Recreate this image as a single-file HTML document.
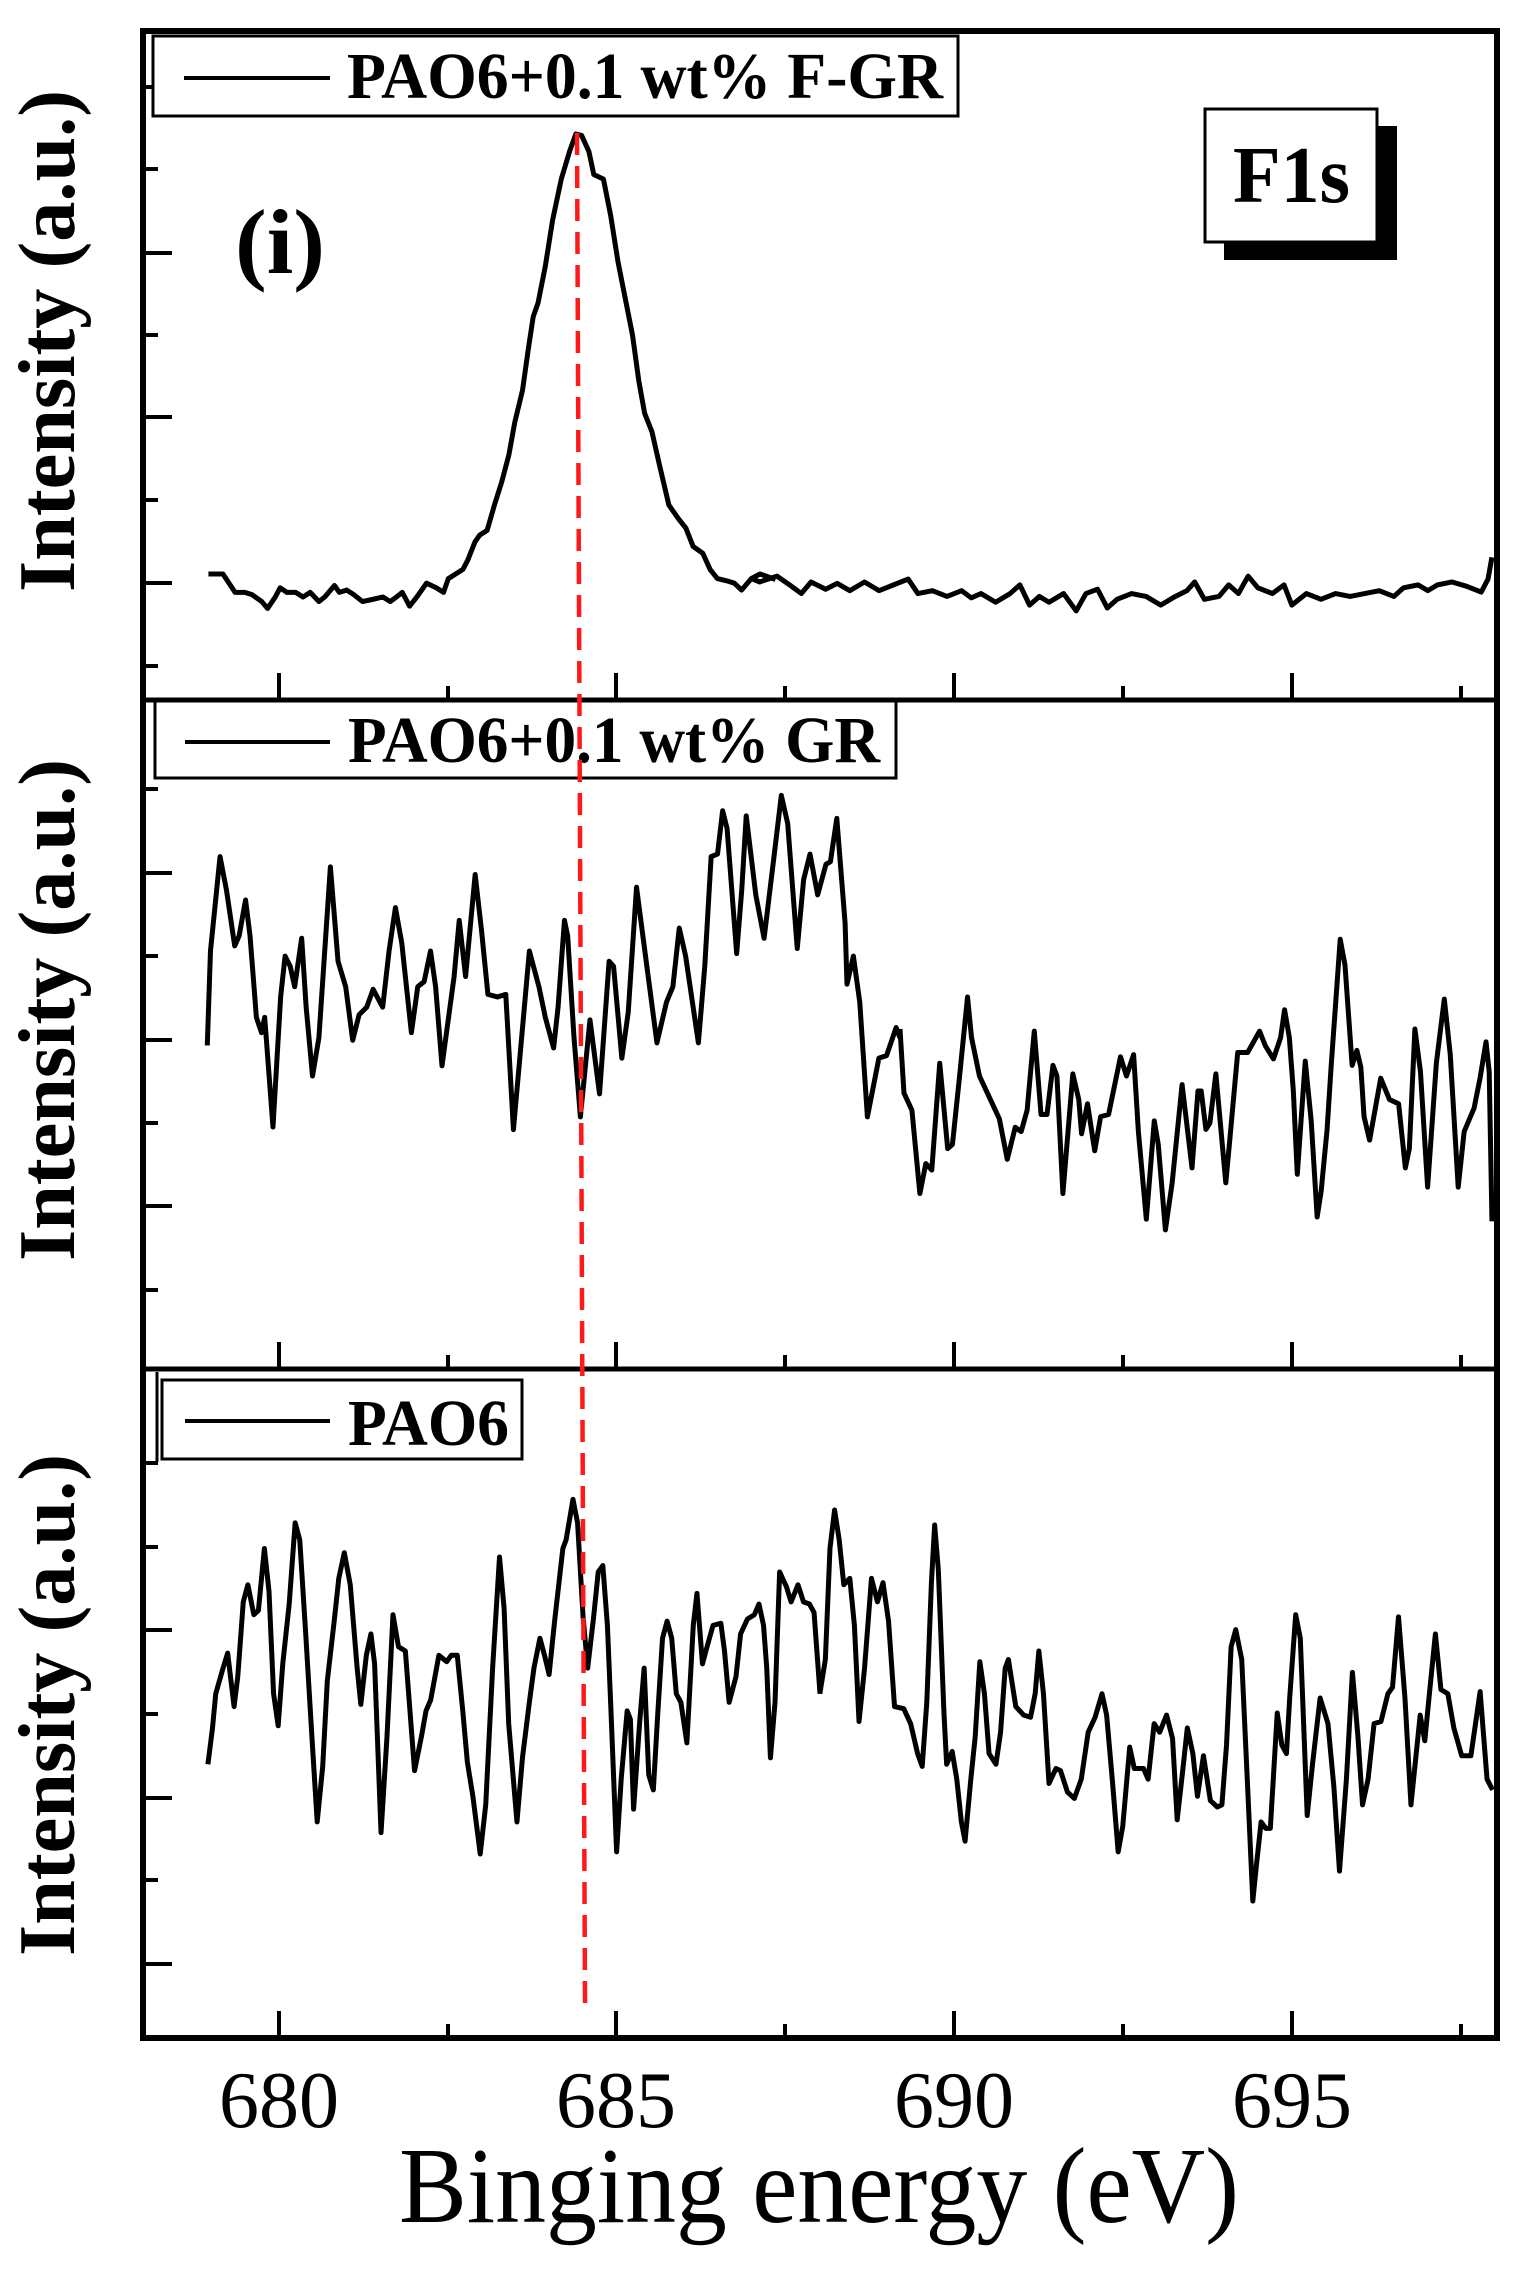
<!DOCTYPE html>
<html><head><meta charset="utf-8"><style>html,body{margin:0;padding:0;background:#fff}svg{display:block}</style></head>
<body>
<svg width="1523" height="2270" viewBox="0 0 1523 2270" xmlns="http://www.w3.org/2000/svg" font-family="'Liberation Serif',serif">
<rect width="1523" height="2270" fill="#fff"/>
<rect x="143" y="31" width="1354" height="2007" fill="none" stroke="#000" stroke-width="6"/>
<line x1="143" y1="700" x2="1497" y2="700" stroke="#000" stroke-width="5"/>
<line x1="143" y1="1369" x2="1497" y2="1369" stroke="#000" stroke-width="5"/>
<g stroke="#000" stroke-width="4">
<line x1="143" y1="87" x2="158" y2="87"/><line x1="143" y1="169" x2="158" y2="169"/><line x1="143" y1="253" x2="172" y2="253"/><line x1="143" y1="335" x2="158" y2="335"/><line x1="143" y1="417" x2="172" y2="417"/><line x1="143" y1="500" x2="158" y2="500"/><line x1="143" y1="583" x2="172" y2="583"/><line x1="143" y1="666" x2="158" y2="666"/>
<line x1="143" y1="789" x2="158" y2="789"/><line x1="143" y1="873" x2="172" y2="873"/><line x1="143" y1="956" x2="158" y2="956"/><line x1="143" y1="1040" x2="172" y2="1040"/><line x1="143" y1="1123" x2="158" y2="1123"/><line x1="143" y1="1206" x2="172" y2="1206"/><line x1="143" y1="1290" x2="158" y2="1290"/>
<line x1="143" y1="1463" x2="158" y2="1463"/><line x1="143" y1="1547" x2="158" y2="1547"/><line x1="143" y1="1630" x2="172" y2="1630"/><line x1="143" y1="1714" x2="158" y2="1714"/><line x1="143" y1="1798" x2="172" y2="1798"/><line x1="143" y1="1880" x2="158" y2="1880"/><line x1="143" y1="1964" x2="172" y2="1964"/>
<line x1="279" y1="700" x2="279" y2="673"/><line x1="448" y1="700" x2="448" y2="686"/><line x1="616" y1="700" x2="616" y2="673"/><line x1="785" y1="700" x2="785" y2="686"/><line x1="954" y1="700" x2="954" y2="673"/><line x1="1123" y1="700" x2="1123" y2="686"/><line x1="1292" y1="700" x2="1292" y2="673"/><line x1="1461" y1="700" x2="1461" y2="686"/>
<line x1="279" y1="1369" x2="279" y2="1342"/><line x1="448" y1="1369" x2="448" y2="1355"/><line x1="616" y1="1369" x2="616" y2="1342"/><line x1="785" y1="1369" x2="785" y2="1355"/><line x1="954" y1="1369" x2="954" y2="1342"/><line x1="1123" y1="1369" x2="1123" y2="1355"/><line x1="1292" y1="1369" x2="1292" y2="1342"/><line x1="1461" y1="1369" x2="1461" y2="1355"/>
<line x1="279" y1="2038" x2="279" y2="2011"/><line x1="448" y1="2038" x2="448" y2="2024"/><line x1="616" y1="2038" x2="616" y2="2011"/><line x1="785" y1="2038" x2="785" y2="2024"/><line x1="954" y1="2038" x2="954" y2="2011"/><line x1="1123" y1="2038" x2="1123" y2="2024"/><line x1="1292" y1="2038" x2="1292" y2="2011"/><line x1="1461" y1="2038" x2="1461" y2="2024"/>
</g>
<g stroke="#000" fill="#fff">
<rect x="153" y="36" width="805" height="80" stroke-width="3"/>
<rect x="155" y="701" width="741" height="77" stroke-width="3"/>
<rect x="162" y="1380" width="360" height="79" stroke-width="3"/>
</g>
<line x1="157" y1="1372" x2="157" y2="1462" stroke="#000" stroke-width="3"/>
<g stroke="#000" stroke-width="4">
<line x1="184" y1="78" x2="330" y2="78"/>
<line x1="185" y1="742" x2="330" y2="742"/>
<line x1="185" y1="1421" x2="330" y2="1421"/>
</g>
<g font-weight="bold" font-size="66" fill="#000">
<text x="347" y="98" textLength="596" lengthAdjust="spacingAndGlyphs">PAO6+0.1 wt% F-GR</text>
<text x="348" y="762" textLength="532" lengthAdjust="spacingAndGlyphs">PAO6+0.1 wt% GR</text>
<text x="348" y="1445" textLength="161" lengthAdjust="spacingAndGlyphs">PAO6</text>
</g>
<rect x="1224" y="126" width="173" height="134" fill="#000"/>
<rect x="1205" y="109" width="172" height="133" fill="#fff" stroke="#000" stroke-width="3"/>
<text x="1233" y="202" font-weight="bold" font-size="80" textLength="117" lengthAdjust="spacingAndGlyphs">F1s</text>
<text x="235" y="273" font-weight="bold" font-size="92" textLength="90" lengthAdjust="spacingAndGlyphs">(i)</text>
<g font-weight="bold" font-size="80">
<text transform="translate(74,341) rotate(-90)" text-anchor="middle" textLength="502" lengthAdjust="spacingAndGlyphs">Intensity (a.u.)</text>
<text transform="translate(74,1010) rotate(-90)" text-anchor="middle" textLength="502" lengthAdjust="spacingAndGlyphs">Intensity (a.u.)</text>
<text transform="translate(74,1705) rotate(-90)" text-anchor="middle" textLength="502" lengthAdjust="spacingAndGlyphs">Intensity (a.u.)</text>
</g>
<g font-size="80" text-anchor="middle">
<text x="279" y="2127" textLength="120" lengthAdjust="spacingAndGlyphs">680</text>
<text x="616" y="2127" textLength="120" lengthAdjust="spacingAndGlyphs">685</text>
<text x="954" y="2127" textLength="120" lengthAdjust="spacingAndGlyphs">690</text>
<text x="1292" y="2127" textLength="120" lengthAdjust="spacingAndGlyphs">695</text>
</g>
<text x="399" y="2222" font-size="108" textLength="840" lengthAdjust="spacingAndGlyphs">Binging energy (eV)</text>
<g fill="none" stroke="#000" stroke-width="5" stroke-linejoin="round">
<polyline vector-effect="non-scaling-stroke" transform="scale(0.4847,0.4592)" points="430,1250 460,1250 485,1290 505,1290 520,1295 540,1310 552,1325 568,1300 578,1280 592,1290 610,1290 625,1300 640,1290 658,1310 670,1300 690,1275 700,1290 715,1285 730,1295 748,1310 770,1305 790,1300 805,1310 818,1300 830,1290 845,1320 860,1300 880,1270 900,1280 915,1290 925,1260 940,1250 955,1240 965,1220 980,1180 990,1165 1005,1155 1020,1100 1035,1050 1050,990 1062,920 1078,850 1090,760 1100,690 1110,660 1125,580 1140,480 1158,390 1175,330 1188,292 1200,295 1215,330 1225,380 1245,390 1260,470 1275,570 1290,650 1305,730 1318,830 1330,900 1345,940 1360,1010 1380,1100 1400,1130 1415,1150 1430,1190 1450,1205 1465,1240 1480,1260 1500,1265 1515,1270 1530,1285 1550,1260 1568,1250 1600,1262"/>
<polyline vector-effect="non-scaling-stroke" transform="scale(0.9713,1.4477)" points="775,400 782,402 800,398 815,405 825,410 835,402 850,407 862,403 875,408 890,402 905,408 920,404 935,400 945,410 960,408 975,412 990,408 1000,413 1010,410 1025,416 1040,410 1050,404 1060,418 1070,412 1080,416 1095,410 1108,422 1118,410 1130,407 1140,420 1150,414 1165,410 1180,412 1195,418 1210,412 1222,408 1230,402 1240,414 1255,412 1265,404 1275,410 1285,398 1295,406 1310,410 1322,404 1330,418 1345,410 1360,414 1375,410 1390,412 1405,410 1420,408 1435,412 1445,406 1460,404 1470,408 1480,404 1495,402 1510,405 1525,409 1532,400 1536,385"/>
<polyline vector-effect="non-scaling-stroke" transform="translate(0,650) scale(0.6378,0.5102)" points="325,775 330,590 345,405 355,470 368,580 375,560 385,490 392,560 402,720 410,750 415,720 428,935 440,680 447,600 455,620 462,660 473,565 480,700 490,835 500,760 518,425 530,610 542,660 553,765 563,715 575,700 585,665 600,700 610,590 620,505 630,575 645,750 655,660 665,650 675,590 683,660 693,815 712,640 720,530 730,640 745,440 755,550 765,675 780,680 793,675 805,940 830,590 845,660 855,720 868,780 875,700 885,530 890,560 900,760 910,915 925,725 940,870 955,610 962,620 975,800 985,710 998,465 1010,580 1030,770 1045,690 1055,660 1065,545 1075,600 1095,770 1105,620 1115,405 1125,400 1133,315 1140,350 1155,595 1163,470 1170,325 1185,480 1198,565 1215,390 1225,285 1235,340 1250,585 1260,450 1270,400 1282,480 1295,420 1302,415 1312,330 1325,535 1328,655 1338,600 1348,690 1360,915 1378,800 1390,795 1405,740 1411,760"/>
<polyline vector-effect="non-scaling-stroke" transform="translate(900,700) scale(0.3973,0.4273)" points="0,770 10,920 30,960 50,1155 65,1085 80,1100 100,850 120,1050 132,1040 150,880 170,695 180,790 200,880 240,960 250,980 270,1075 290,1000 305,1010 320,960 338,775 355,970 370,970 385,855 395,880 410,1155 435,875 450,935 457,1015 472,945 490,1055 505,975 525,970 555,835 570,880 588,830 600,1010 620,1215 640,985 650,1040 668,1240 685,1130 710,900 735,1095 750,915 758,915 770,1005 780,990 795,875 820,1130 830,1030 850,825 875,825 905,775 920,810 940,840 958,790 968,725 980,790 990,915 1000,1110 1020,845 1035,985 1050,1210 1060,1150 1075,1005 1085,860 1108,560 1120,620 1138,855 1150,820 1160,860 1168,975 1182,1030 1210,885 1232,935 1255,945 1272,1095 1282,1050 1296,770 1310,870 1328,1140 1350,850 1370,700 1385,830 1405,1140 1420,1010 1445,955 1460,885 1475,800 1483,870 1490,1220"/>
<polyline vector-effect="non-scaling-stroke" transform="translate(100,1369) scale(0.4592,0.4273)" points="235,925 245,840 252,760 268,700 278,665 292,790 300,720 312,545 322,505 335,575 345,565 358,420 368,520 378,760 388,835 398,690 412,550 425,360 435,400 448,620 462,870 473,1060 485,930 495,730 510,590 520,490 532,430 545,505 560,700 568,785 580,670 590,620 598,690 612,1085 625,860 638,575 650,650 665,660 675,800 685,940 700,860 710,800 720,775 738,670 755,685 765,670 778,670 790,800 800,920 812,1000 828,1135 840,1020 855,700 870,440 880,560 890,830 908,1060 920,910 935,780 945,700 958,630 968,670 978,715 990,590 1008,420 1015,400 1030,305 1040,360 1052,580 1062,700 1075,580 1085,475 1095,460 1105,600 1112,780 1125,1130 1135,960 1148,800 1155,820 1162,1030 1175,830 1185,700 1195,950 1205,985 1215,800 1225,630 1235,590 1245,630 1255,760 1265,780 1278,875 1292,600 1300,525 1312,690 1322,650 1335,600 1352,595 1360,660 1370,780 1385,720 1395,620 1410,585 1425,575 1435,550 1445,600 1452,700 1460,910 1470,780 1480,475 1495,510 1505,545 1520,505 1532,545 1545,550 1555,570 1568,760"/>
<polyline vector-effect="non-scaling-stroke" transform="translate(800,1369) scale(0.4611,0.4273)" points="43,760 55,680 65,420 75,330 85,400 95,505 108,490 118,600 128,825 140,700 155,490 168,545 180,500 192,590 205,790 225,795 240,830 255,900 265,930 275,780 285,500 292,365 300,470 312,800 318,925 330,895 340,960 350,1060 358,1105 370,965 380,860 390,685 400,760 410,900 425,925 435,850 445,700 452,680 468,790 485,810 500,815 510,760 518,660 528,760 540,970 555,935 565,940 580,990 595,1005 610,960 625,850 640,815 655,760 665,810 678,970 690,1130 700,1070 715,885 725,935 745,935 755,960 768,830 780,850 795,810 808,865 818,1055 830,940 840,840 852,900 862,1000 875,905 890,1010 905,1025 915,1020 925,880 935,650 945,610 958,680 970,960 982,1245 990,1160 1000,1060 1010,1075 1020,1075 1035,805 1045,880 1055,900 1062,770 1075,575 1085,630 1100,1045 1112,920 1128,770 1145,830 1158,980 1170,1175 1185,960 1198,710 1210,860 1220,1020 1232,960 1245,830 1260,825 1275,760 1285,745 1298,580 1312,770 1325,1020 1345,810 1355,870 1365,760 1378,620 1390,750 1405,760 1418,840 1435,905 1455,905 1475,755 1490,960 1502,985"/>
</g>
<line x1="577" y1="133" x2="585" y2="2005" stroke="#ff1a1a" stroke-width="4.5" stroke-dasharray="22,11"/>
</svg>
</body></html>
